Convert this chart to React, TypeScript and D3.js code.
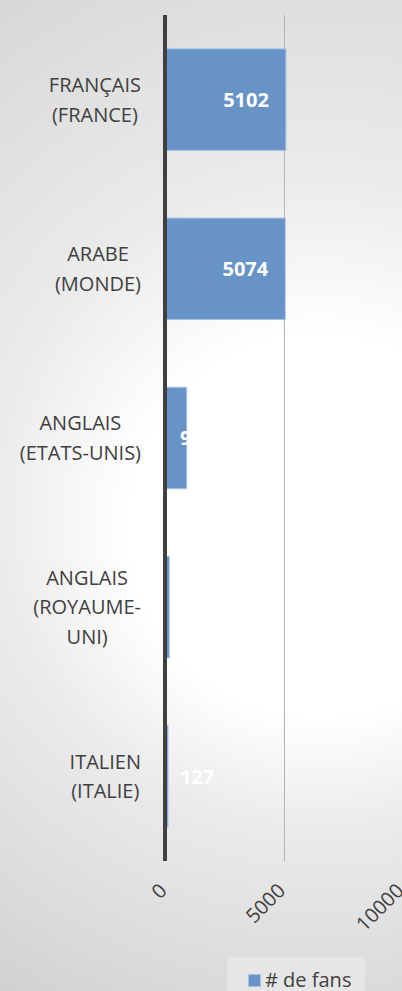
import React, { useEffect, useRef } from "react";
import * as d3 from "d3";

const categories = [
  "FRANÇAIS\n(FRANCE)",
  "ARABE\n(MONDE)",
  "ANGLAIS\n(ETATS-UNIS)",
  "ANGLAIS\n(ROYAUME-\nUNI)",
  "ITALIEN\n(ITALIE)",
];
const fans = [5102, 5074, 915, 181, 127];
const xTicks = [0, 5000, 10000];
const seriesName = "# de fans";

const W = 402;
const H = 991;
const FONT = "'Open Sans', 'Noto Sans', sans-serif";

export default function App() {
  const ref = useRef<SVGSVGElement>(null);

  useEffect(() => {
    const svg = d3.select(ref.current);
    svg.selectAll("*").remove();

    const defs = svg.append("defs");
    const grad = defs
      .append("radialGradient")
      .attr("id", "bg")
      .attr("gradientUnits", "userSpaceOnUse")
      .attr("cx", 320)
      .attr("cy", 440)
      .attr("r", 680)
      .attr("fx", 320)
      .attr("fy", 560);
    grad.append("stop").attr("offset", 0).attr("stop-color", "#ffffff");
    grad.append("stop").attr("offset", 0.28).attr("stop-color", "#ffffff");
    grad.append("stop").attr("offset", 0.48).attr("stop-color", "#ebebeb");
    grad.append("stop").attr("offset", 0.78).attr("stop-color", "#dadada");
    grad.append("stop").attr("offset", 1).attr("stop-color", "#cccccc");

    svg.append("rect").attr("width", W).attr("height", H).attr("fill", "url(#bg)");

    const x = d3.scaleLinear().domain([0, 10000]).range([165, 402]);
    const y = d3
      .scaleBand<string>()
      .domain(categories)
      .range([15, 861])
      .paddingInner(0.4)
      .paddingOuter(0.2);

    // gridlines (except zero)
    svg
      .append("g")
      .selectAll("line")
      .data(xTicks.filter((t) => t !== 0))
      .join("line")
      .attr("x1", (d) => Math.round(x(d)) + 0.5)
      .attr("x2", (d) => Math.round(x(d)) + 0.5)
      .attr("y1", 15)
      .attr("y2", 861)
      .attr("stroke", "#b4b4b4")
      .attr("stroke-width", 1);

    // bars
    svg
      .append("g")
      .selectAll("rect")
      .data(fans)
      .join("rect")
      .attr("x", x(0))
      .attr("y", (_, i) => y(categories[i])!)
      .attr("width", (d) => x(d) - x(0))
      .attr("height", y.bandwidth())
      .attr("fill", "#6893c6")
      .attr("stroke", "#a9c3e4")
      .attr("stroke-width", 1);

    // axis line
    svg
      .append("line")
      .attr("x1", x(0))
      .attr("x2", x(0))
      .attr("y1", 15)
      .attr("y2", 861)
      .attr("stroke", "#404040")
      .attr("stroke-width", 4);

    // bar labels
    const lab = svg
      .append("g")
      .selectAll("text")
      .data(fans)
      .join("text")
      .attr("y", (_, i) => y(categories[i])! + y.bandwidth() / 2)
      .attr("dy", "0.36em")
      .attr("font-family", FONT)
      .attr("font-size", 20)
      .attr("font-weight", 700)
      .attr("fill", "#ffffff")
      .text((d) => String(d));
    lab.each(function (d) {
      const t = this as SVGTextElement;
      const w = t.getComputedTextLength();
      const bw = x(d) - x(0);
      if (bw > w + 34) {
        d3.select(t).attr("x", x(d) - 17).attr("text-anchor", "end");
      } else {
        d3.select(t).attr("x", x(0) + 15).attr("text-anchor", "start");
      }
    });

    // category labels
    const catG = svg.append("g");
    categories.forEach((c) => {
      const lines = c.split("\n");
      const cy = y(c)! + y.bandwidth() / 2;
      const lh = 29.5;
      const g = catG.append("g");
      const texts = g
        .selectAll("text")
        .data(lines)
        .join("text")
        .attr("y", (_, j) => cy + (j - (lines.length - 1) / 2) * lh)
        .attr("dy", "0.36em")
        .attr("font-family", FONT)
        .attr("font-size", 20)
        .attr("fill", "#404040")
        .attr("text-anchor", "middle")
        .text((d) => d);
      let maxW = 0;
      texts.each(function () {
        maxW = Math.max(maxW, (this as SVGTextElement).getComputedTextLength());
      });
      texts.attr("x", 141 - maxW / 2);
    });

    // x tick labels
    svg
      .append("g")
      .selectAll("text")
      .data(xTicks)
      .join("text")
      .attr("transform", (d) => `translate(${x(d) + 3},${892}) rotate(-45)`)
      .attr("text-anchor", "end")
      .attr("font-family", FONT)
      .attr("font-size", 20)
      .attr("fill", "#404040")
      .text((d) => String(d));

    // legend
    const leg = svg.append("g");
    leg
      .append("rect")
      .attr("x", 227)
      .attr("y", 957)
      .attr("width", 138)
      .attr("height", 40)
      .attr("fill", "#e6e6e6");
    leg
      .append("rect")
      .attr("x", 248.5)
      .attr("y", 974.5)
      .attr("width", 12)
      .attr("height", 12)
      .attr("fill", "#6893c6")
      .attr("stroke", "#a9c3e4")
      .attr("stroke-width", 1);
    leg
      .append("text")
      .attr("x", 265)
      .attr("y", 987)
      .attr("font-family", FONT)
      .attr("font-size", 20)
      .attr("fill", "#404040")
      .text(seriesName);
  }, []);

  return (
    <svg
      ref={ref}
      width={W}
      height={H}
      style={{ position: "absolute", left: 0, top: 0, display: "block" }}
    />
  );
}
